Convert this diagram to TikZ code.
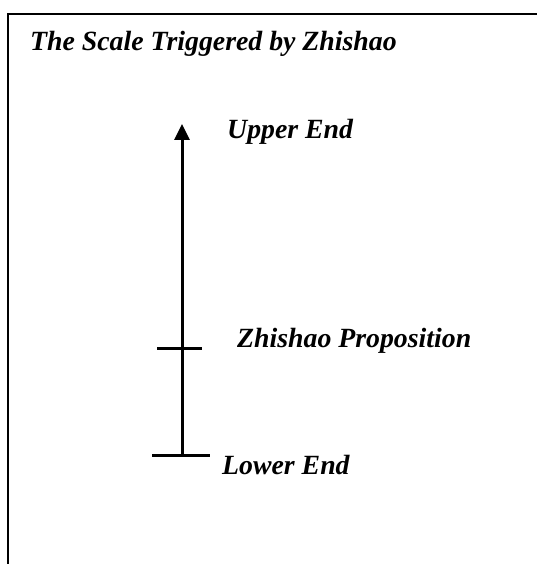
\documentclass[tikz,border=0pt]{standalone}
\usepackage{fontspec}
\setmainfont{Liberation Serif}
\usetikzlibrary{arrows.meta}
\tikzset{
  lbl/.style={anchor=base west, inner sep=0pt, font=\fontsize{27.8}{32}\selectfont\bfseries\itshape},
  scaleline/.style={line width=3pt},
  frameline/.style={line width=2pt}
}
\begin{document}
\begin{tikzpicture}[x=1pt,y=1pt]
\useasboundingbox (0,0) rectangle (537,564);
\fill[white] (0,0) rectangle (537,564);
% frame (top and left edges)
\coordinate (fbl) at (7.5,0);
\coordinate (ftl) at (7.5,550);
\coordinate (ftr) at (537,550);
\draw[frameline] (fbl) -- (ftl) -- (ftr);
% title
\node[lbl] (title) at (30,513) {The Scale Triggered by Zhishao};
% scale
\coordinate (lo) at (182,108.3);
\coordinate (hi) at (182,440);
\draw[scaleline, -{Triangle[length=16pt,width=15pt]}] (lo) -- (hi);
\coordinate (lol) at (152,108.3);
\coordinate (lor) at (210,108.3);
\draw[scaleline] (lol) -- (lor);
\coordinate (mil) at (157,215);
\coordinate (mir) at (202,215);
\draw[scaleline] (mil) -- (mir);
% labels
\node[lbl] (upper) at (227,425) {Upper End};
\node[lbl] (prop) at (237,216) {Zhishao Proposition};
\node[lbl] (lower) at (222,89) {Lower End};
\end{tikzpicture}
\end{document}
